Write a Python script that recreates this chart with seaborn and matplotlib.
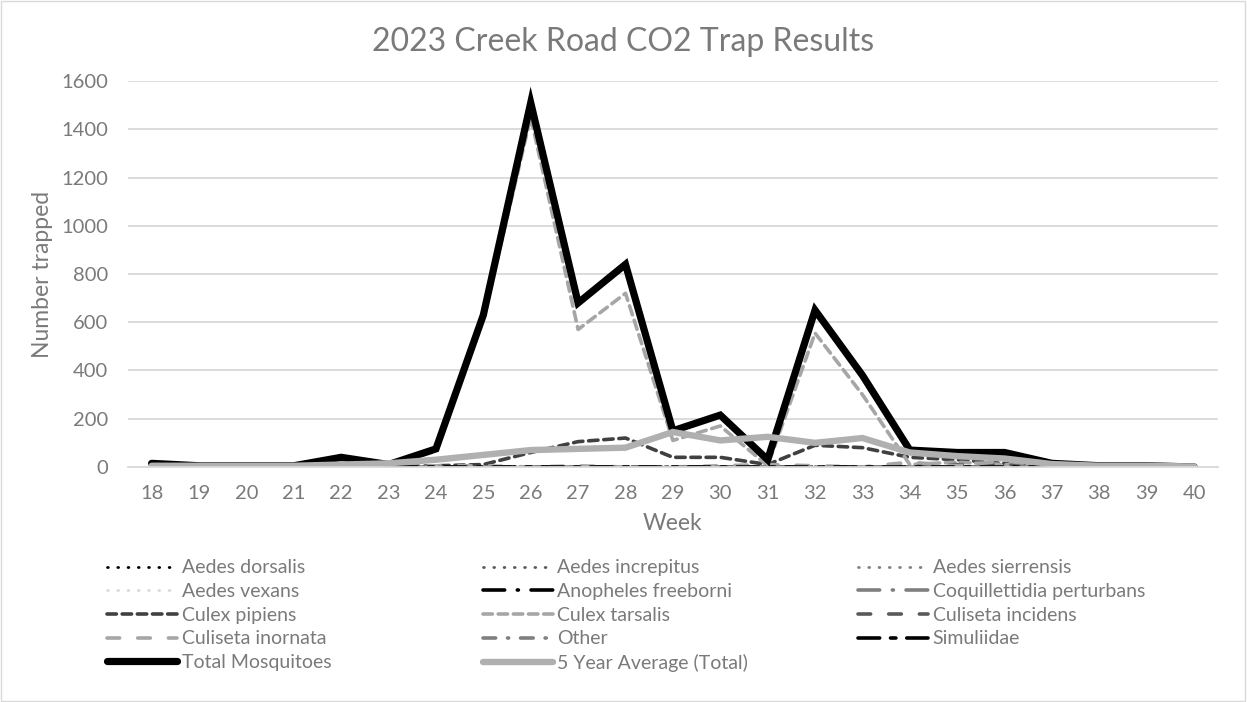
import matplotlib
matplotlib.use("Agg")
import matplotlib.pyplot as plt
import seaborn as sns
from matplotlib.patches import Rectangle

weeks = list(range(18, 41))

aedes_dorsalis = [0] * 23
aedes_increpitus = [0] * 23
aedes_sierrensis = [0] * 23
aedes_vexans = [0] * 23
anopheles_freeborni = [0] * 23
coquillettidia_perturbans = [0] * 23
culex_pipiens = [0, 0, 0, 0, 5, 0, 5, 10, 60, 105, 120, 40, 40, 10, 90, 80, 40, 30, 15, 5, 2, 0, 0]
culex_tarsalis = [10, 3, 3, 3, 30, 8, 65, 615, 1450, 570, 720, 110, 170, 5, 555, 300, 10, 20, 10, 5, 2, 2, 0]
culiseta_incidens = [0, 0, 0, 0, 0, 0, 0, 0, 0, 0, 0, 0, 0, 5, 0, 0, 5, 10, 10, 3, 0, 0, 0]
culiseta_inornata = [5, 2, 2, 2, 5, 2, 5, 5, 0, 5, 0, 0, 5, 10, 5, 0, 20, 5, 25, 2, 1, 1, 0]
other = [0] * 23
simuliidae = [0] * 23
total = [15, 5, 5, 5, 40, 10, 75, 630, 1510, 680, 840, 150, 215, 30, 650, 380, 70, 60, 60, 15, 5, 5, 0]
five_year_avg = [5, 5, 5, 5, 10, 15, 30, 50, 70, 75, 80, 145, 110, 125, 100, 120, 60, 45, 35, 12, 5, 5, 2]

series_names = ["Aedes dorsalis", "Aedes increpitus", "Aedes sierrensis",
                "Aedes vexans", "Anopheles freeborni", "Coquillettidia perturbans",
                "Culex pipiens", "Culex tarsalis", "Culiseta incidens",
                "Culiseta inornata", "Other", "Simuliidae",
                "Total Mosquitoes", "5 Year Average (Total)"]
series_values = [aedes_dorsalis, aedes_increpitus, aedes_sierrensis,
                 aedes_vexans, anopheles_freeborni, coquillettidia_perturbans,
                 culex_pipiens, culex_tarsalis, culiseta_incidens,
                 culiseta_inornata, other, simuliidae,
                 total, five_year_avg]

# (color, linewidth, linestyle) per series, Excel-ish
styles = [
    ("#000000", 2.0, (0, (0.3, 3.4))),
    ("#595959", 2.0, (0, (0.3, 3.4))),
    ("#7f7f7f", 2.0, (0, (0.3, 3.4))),
    ("#d9d9d9", 2.0, (0, (0.3, 3.4))),
    ("#000000", 2.6, (0, (6, 3.5, 0.3, 3.5))),
    ("#7f7f7f", 2.6, (0, (6, 3.5, 0.3, 3.5))),
    ("#404040", 2.6, (0, (2.6, 1.6))),
    ("#a6a6a6", 2.6, (0, (2.6, 1.6))),
    ("#595959", 2.6, (0, (3.5, 5))),
    ("#a6a6a6", 2.6, (0, (3.5, 5))),
    ("#7f7f7f", 2.6, (0, (3.5, 3.3, 0.3, 3.3))),
    ("#000000", 2.6, (0, (6, 3, 1.5, 3))),
    ("#000000", 5.2, "-"),
    ("#b0b0b0", 4.6, "-"),
]

sns.set_theme(style="white")
plt.rcParams["font.family"] = ["Lato", "DejaVu Sans"]
text_col = "#7a7a7a"

fig = plt.figure(figsize=(12.47, 7.02), dpi=100)
ax = fig.add_axes([0.1026, 0.3348, 0.874, 0.5498])

for name, vals, (col, lw, ls) in zip(series_names, series_values, styles):
    sns.lineplot(x=weeks, y=vals, ax=ax, color=col, linewidth=lw,
                 linestyle=ls, label=name, legend=False)
for ln in ax.get_lines():
    ln.set_dash_capstyle("round")
    ln.set_solid_capstyle("round")
    ln.set_solid_joinstyle("miter")

ax.set_xlim(17.5, 40.5)
ax.set_ylim(0, 1600)
ax.set_yticks(range(0, 1601, 200))
ax.set_xticks(weeks)
ax.set_xticklabels([str(w) for w in weeks])
ax.yaxis.grid(True, color="#d9d9d9", linewidth=1.3)
ax.set_axisbelow(True)
for s in ["top", "right", "left"]:
    ax.spines[s].set_visible(False)
ax.spines["bottom"].set_color("#d9d9d9")
ax.spines["bottom"].set_linewidth(1.3)
ax.tick_params(axis="both", length=0, labelsize=14.5, colors=text_col)
ax.tick_params(axis="x", pad=13)
ax.tick_params(axis="y", pad=14)

ax.set_xlabel("Week", fontsize=16.5, color=text_col, labelpad=8)
ax.set_ylabel("Number trapped", fontsize=16.5, color=text_col, labelpad=6)
fig.suptitle("2023 Creek Road CO2 Trap Results", y=0.962, fontsize=23,
             color=text_col)

# Excel legend: 3 equal-width columns, filled row by row
handles = ax.get_lines()
col_x = [0.086, 0.387, 0.688]
for c in range(3):
    idx = list(range(c, len(series_names), 3))
    leg = fig.legend([handles[i] for i in idx], [series_names[i] for i in idx],
                     loc="upper left", bbox_to_anchor=(col_x[c], 0.203),
                     frameon=False, fontsize=14, handlelength=3.6,
                     handletextpad=0.25, labelspacing=0.34,
                     borderaxespad=0, borderpad=0)
    for t in leg.get_texts():
        t.set_color(text_col)

fig.patches.append(Rectangle((0.001, 0.002), 0.997, 0.996, transform=fig.transFigure,
                             fill=False, edgecolor="#d9d9d9", linewidth=1))

fig.savefig("out.png", dpi=100, facecolor="white")
